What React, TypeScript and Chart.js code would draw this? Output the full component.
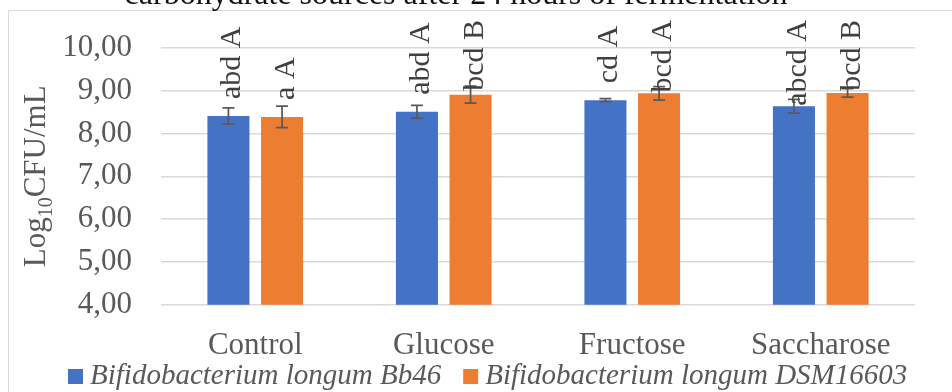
import React, { useEffect, useRef } from "react";
import { Chart, registerables } from "chart.js";

Chart.register(...registerables);

const categories = ["Control", "Glucose", "Fructose", "Saccharose"];
const seriesNames = ["Bifidobacterium longum Bb46", "Bifidobacterium longum DSM16603"];
const bb46Values = [8.41, 8.51, 8.78, 8.64];
const bb46Errors = [0.19, 0.15, 0.035, 0.16];
const bb46Letters = ["abd A", "abd A", "cd A", "abcd A"];
const dsmValues = [8.39, 8.91, 8.94, 8.95];
const dsmErrors = [0.25, 0.2, 0.16, 0.1];
const dsmLetters = ["a A", "bcd B", "bcd A", "bcd B"];
const yTickValues = [4, 5, 6, 7, 8, 9, 10];
const yTickLabels = ["4,00", "5,00", "6,00", "7,00", "8,00", "9,00", "10,00"];
const titleText = "carbohydrate sources after 24 hours of fermentation";

const SERIF = "'Liberation Serif', 'Times New Roman', serif";
const errorsBySeries = [bb46Errors, dsmErrors];
const lettersBySeries = [bb46Letters, dsmLetters];

const decoPlugin = {
  id: "deco",
  beforeDraw(chart: any) {
    const ctx = chart.ctx;
    ctx.save();
    ctx.fillStyle = "#ffffff";
    ctx.fillRect(0, 0, chart.width, chart.height);
    // outer chart border (partially visible)
    ctx.strokeStyle = "#d9d9d9";
    ctx.lineWidth = 1;
    ctx.beginPath();
    ctx.moveTo(8.5, chart.height);
    ctx.lineTo(8.5, 10.5);
    ctx.lineTo(chart.width, 10.5);
    ctx.stroke();
    // clipped title
    ctx.fillStyle = "#111111";
    ctx.font = `32px ${SERIF}`;
    ctx.textAlign = "center";
    ctx.textBaseline = "alphabetic";
    ctx.fillText(titleText, 456, 4);
    ctx.restore();
  },
  afterDatasetsDraw(chart: any) {
    const ctx = chart.ctx;
    const yScale = chart.scales.y;
    ctx.save();
    chart.data.datasets.forEach((ds: any, i: number) => {
      const meta = chart.getDatasetMeta(i);
      const errs = errorsBySeries[i];
      meta.data.forEach((el: any, j: number) => {
        const v = ds.data[j];
        const e = errs[j];
        const yt = yScale.getPixelForValue(v + e);
        const yb = yScale.getPixelForValue(v - e);
        ctx.strokeStyle = "#595959";
        ctx.lineWidth = 1.75;
        ctx.beginPath();
        ctx.moveTo(el.x, yt);
        ctx.lineTo(el.x, yb);
        ctx.moveTo(el.x - 6, yt);
        ctx.lineTo(el.x + 6, yt);
        ctx.moveTo(el.x - 6, yb);
        ctx.lineTo(el.x + 6, yb);
        ctx.stroke();
      });
    });
    // letter labels
    ctx.font = `30px ${SERIF}`;
    ctx.fillStyle = "#404040";
    ctx.textAlign = "left";
    ctx.textBaseline = "alphabetic";
    const minTop = chart.chartArea.top - 28;
    chart.data.datasets.forEach((ds: any, i: number) => {
      const meta = chart.getDatasetMeta(i);
      const letters = lettersBySeries[i];
      meta.data.forEach((el: any, j: number) => {
        const txt = letters[j];
        const w = ctx.measureText(txt).width;
        const bottom = Math.max(el.y - 17, minTop + w);
        ctx.save();
        ctx.translate(el.x + 12, bottom);
        ctx.rotate(-Math.PI / 2);
        ctx.fillText(txt, 0, 0);
        ctx.restore();
      });
    });
    ctx.restore();
  },
  afterDraw(chart: any) {
    const ctx = chart.ctx;
    ctx.save();
    // y axis title with subscript
    const area = chart.chartArea;
    const cy = (area.top + area.bottom) / 2;
    ctx.fillStyle = "#595959";
    ctx.textBaseline = "alphabetic";
    ctx.textAlign = "left";
    const mainFont = `31px ${SERIF}`;
    const subFont = `20px ${SERIF}`;
    ctx.font = mainFont;
    const w1 = ctx.measureText("Log").width;
    const w3 = ctx.measureText("CFU/mL").width;
    ctx.font = subFont;
    const w2 = ctx.measureText("10").width;
    const total = w1 + w2 + w3;
    ctx.translate(45, cy);
    ctx.rotate(-Math.PI / 2);
    const sx = -total / 2;
    ctx.font = mainFont;
    ctx.fillText("Log", sx, 0);
    ctx.font = subFont;
    ctx.fillText("10", sx + w1, 7);
    ctx.font = mainFont;
    ctx.fillText("CFU/mL", sx + w1 + w2, 0);
    ctx.restore();

    // legend
    ctx.save();
    ctx.font = `italic 29px ${SERIF}`;
    ctx.textAlign = "left";
    ctx.textBaseline = "alphabetic";
    let x = 68;
    chart.data.datasets.forEach((ds: any) => {
      ctx.fillStyle = ds.backgroundColor;
      ctx.fillRect(x, 369, 15, 15);
      ctx.fillStyle = "#595959";
      ctx.fillText(ds.label, x + 22, 384);
      x = x + 22 + ctx.measureText(ds.label).width + 22;
    });
    ctx.restore();
  },
};

export default function App() {
  const ref = useRef<HTMLCanvasElement>(null);
  useEffect(() => {
    const chart = new Chart(ref.current as HTMLCanvasElement, {
      type: "bar",
      data: {
        labels: categories,
        datasets: [
          {
            label: seriesNames[0],
            data: bb46Values,
            backgroundColor: "#4472C4",
            borderWidth: 0,
            categoryPercentage: 0.569,
            barPercentage: 0.784,
          },
          {
            label: seriesNames[1],
            data: dsmValues,
            backgroundColor: "#ED7D31",
            borderWidth: 0,
            categoryPercentage: 0.569,
            barPercentage: 0.784,
          },
        ],
      },
      options: {
        animation: false,
        responsive: true,
        maintainAspectRatio: false,
        events: [],
        layout: { padding: { left: 0, top: 48, right: 37, bottom: 0 } },
        plugins: {
          legend: { display: false },
          title: { display: false },
          tooltip: { enabled: false },
        },
        scales: {
          x: {
            grid: { display: false },
            border: { display: false },
            ticks: {
              font: { family: SERIF, size: 31 },
              color: "#595959",
              padding: 15,
              maxRotation: 0,
              autoSkip: false,
            },
            afterFit: (scale: any) => {
              scale.height = 87.3;
            },
          },
          y: {
            min: 4,
            max: 10,
            border: { display: false },
            grid: { color: "#d9d9d9", lineWidth: 1.5, drawTicks: false },
            afterBuildTicks: (scale: any) => {
              scale.ticks = yTickValues.map((v) => ({ value: v }));
            },
            ticks: {
              font: { family: SERIF, size: 31 },
              color: "#595959",
              padding: 29,
              callback: (value: any) => {
                const idx = yTickValues.indexOf(Number(value));
                return idx >= 0 ? yTickLabels[idx] : "";
              },
            },
            afterFit: (scale: any) => {
              scale.width = 161;
            },
          },
        },
      },
      plugins: [decoPlugin],
    });
    return () => chart.destroy();
  }, []);
  return (
    <div style={{ position: "fixed", left: 0, top: 0, width: 952, height: 392, background: "#fff" }}>
      <canvas ref={ref} />
    </div>
  );
}
